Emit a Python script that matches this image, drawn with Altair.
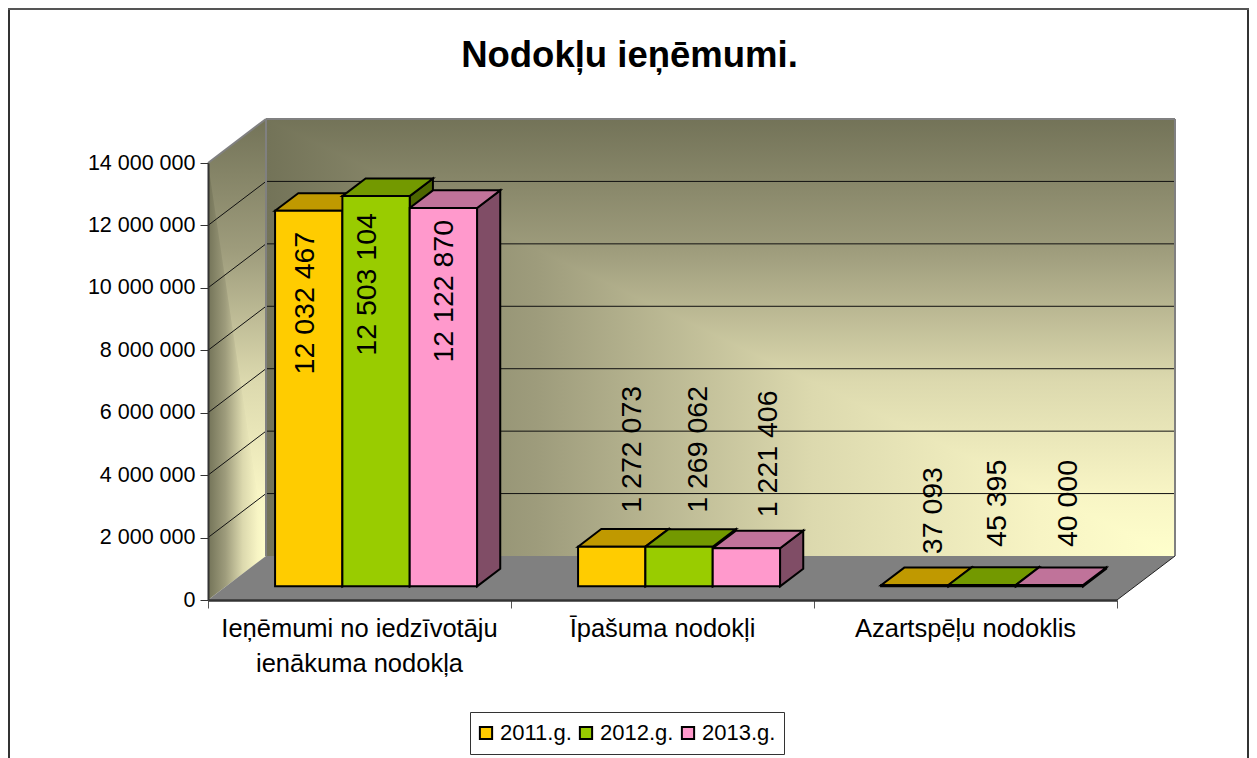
import altair as alt
import pandas as pd

# ---- data ----
categories = [["Ieņēmumi no iedzīvotāju", "ienākuma nodokļa"], ["Īpašuma nodokļi"], ["Azartspēļu nodoklis"]]
series = ["2011.g.", "2012.g.", "2013.g."]
v2011 = [12032467, 1272073, 37093]
v2012 = [12503104, 1269062, 45395]
v2013 = [12122870, 1221406, 40000]
values = [v2011, v2012, v2013]
ticks = [2000000, 4000000, 6000000, 8000000, 10000000, 12000000, 14000000]

front = ["#FFCC00", "#99CC00", "#FF99CC"]
topc = ["#C09900", "#739900", "#C0739A"]
side = ["#806600", "#4D6600", "#804D66"]

FONT = "Liberation Sans"
# ---- projection (oblique 3-D) in data units ----
X_MAX = 3.0
Y_MAX = 14000000.0
PLOT_W, PLOT_H = 909, 437
DU = 58 / 303          # wall depth in x units
DV = 44 / 437 * Y_MAX  # wall depth in y units
BAR_START, BAR_W = 0.162, 0.2222
D_FRONT, D_BACK = 0.31, 0.71

xs = alt.Scale(domain=[0, X_MAX], nice=False, zero=False)
ys = alt.Scale(domain=[0, Y_MAX], nice=False, zero=False)

xaxis = alt.Axis(values=[0, 1, 2, 3], labels=False, title=None, grid=False, tickSize=8,
                 tickColor="#555555", tickWidth=1, domainColor="#333333", domainWidth=2.5, zindex=1)
yaxis = alt.Axis(values=[0] + ticks, title=None, grid=False, tickSize=8, tickColor="#333333", tickWidth=1,
                 domainColor="#333333", domainWidth=2, zindex=1, labelFont=FONT, labelFontSize=21.5,
                 labelColor="black", labelPadding=5,
                 labelExpr="replace(format(datum.value, ','), regexp(',', 'g'), ' ')")


def X(f="x"):
    return alt.X(f"{f}:Q", scale=xs, axis=xaxis)


def Y(f="y"):
    return alt.Y(f"{f}:Q", scale=ys, axis=yaxis, stack=None)


def grad(stops, x2=0, y2=1):
    return alt.Gradient(
        gradient="linear", x1=0, y1=0, x2=x2, y2=y2,
        stops=[alt.GradientStop(offset=o, color=c) for o, c in stops],
    )


STOPS = [(0, "#737358"), (0.3, "#9E9C7C"), (0.6, "#DCD9AE"), (0.85, "#F7F4C4"), (1, "#FFFFCC")]

layers = []


def vtri(rows, fill):
    d = pd.DataFrame(rows, columns=["x", "y", "y2"])
    return alt.Chart(d).mark_area(fill=fill, orient="vertical").encode(x=X(), y=Y(), y2="y2:Q")


# base under the walls, so that the diagonal seam does not show white
layers.append(vtri([(DU, Y_MAX + DV, DV), (X_MAX + DU, Y_MAX + DV, DV)], grad(STOPS)))
layers.append(vtri([(0, Y_MAX, 0), (DU, Y_MAX + DV, DV)], grad(STOPS)))
# back wall: two triangles of a "from corner" gradient
layers.append(vtri([(DU, Y_MAX + DV, Y_MAX + DV), (X_MAX + DU, Y_MAX + DV, DV)], grad(STOPS)))
layers.append(vtri([(DU, Y_MAX + DV, DV), (X_MAX + DU, DV, DV)], grad(STOPS, x2=1, y2=0)))
# side wall
layers.append(vtri([(0, Y_MAX, Y_MAX), (DU, Y_MAX + DV, DV)], grad(STOPS)))
layers.append(vtri([(0, Y_MAX, 0), (DU, DV, DV)], grad(STOPS, x2=1, y2=0)))

# gridlines
g = pd.DataFrame({"v": ticks[:-1]})
g["y"] = g.v + DV
g["x"] = DU
g["x2"] = X_MAX + DU
g["x0"] = 0.0
layers.append(alt.Chart(g).mark_rule(color="#111111", strokeWidth=1).encode(x=X(), x2="x2:Q", y=Y()))
layers.append(alt.Chart(g).mark_rule(color="#111111", strokeWidth=1).encode(
    x=X("x0"), x2="x:Q", y=Y("v"), y2="y:Q"))

# wall outlines
o = pd.DataFrame({
    "x": [0, DU, X_MAX + DU],
    "x2": [DU, X_MAX + DU, X_MAX + DU],
    "y": [Y_MAX, Y_MAX + DV, Y_MAX + DV],
    "y2": [Y_MAX + DV, Y_MAX + DV, DV],
})
layers.append(alt.Chart(o).mark_rule(color="#808080", strokeWidth=2).encode(x=X(), x2="x2:Q", y=Y(), y2="y2:Q"))
o2 = pd.DataFrame({"x": [DU], "y": [Y_MAX + DV], "y2": [DV]})
layers.append(alt.Chart(o2).mark_rule(color="#808080", strokeWidth=2).encode(x=X(), y=Y(), y2="y2:Q"))

# floor
floor = pd.DataFrame({"y": [0, DV], "x": [0, DU], "x2": [X_MAX, X_MAX + DU]})
layers.append(alt.Chart(floor).mark_area(fill="#808080", orient="horizontal").encode(y=Y(), x=X(), x2="x2:Q"))
fe = pd.DataFrame({"x": [X_MAX], "x2": [X_MAX + DU], "y": [0.0], "y2": [DV]})
layers.append(alt.Chart(fe).mark_rule(color="#222222", strokeWidth=1).encode(x=X(), x2="x2:Q", y=Y(), y2="y2:Q"))


def bar_geom(i, j):
    left = j + BAR_START + i * BAR_W
    return left, left + BAR_W, values[i][j]


# side faces
for i in range(3):
    rows = []
    for j in range(3):
        l, r, v = bar_geom(i, j)
        rows.append((j, r + D_FRONT * DU, D_FRONT * DV, v + D_FRONT * DV))
        rows.append((j, r + D_BACK * DU, D_BACK * DV, v + D_BACK * DV))
    d = pd.DataFrame(rows, columns=["c", "x", "y", "y2"])
    layers.append(alt.Chart(d).mark_area(fill=side[i], stroke="black", strokeWidth=2, orient="vertical").encode(
        x=X(), y=Y(), y2="y2:Q", detail="c:N"))

# top faces
for i in range(3):
    rows = []
    for j in range(3):
        l, r, v = bar_geom(i, j)
        rows.append((j, v + D_FRONT * DV, l + D_FRONT * DU, r + D_FRONT * DU))
        rows.append((j, v + D_BACK * DV, l + D_BACK * DU, r + D_BACK * DU))
    d = pd.DataFrame(rows, columns=["c", "y", "x", "x2"])
    layers.append(alt.Chart(d).mark_area(fill=topc[i], stroke="black", strokeWidth=2, orient="horizontal").encode(
        y=Y(), x=X(), x2="x2:Q", detail="c:N"))

# front faces, with the legend
rows = []
for i in range(3):
    for j in range(3):
        l, r, v = bar_geom(i, j)
        rows.append((series[i], l + D_FRONT * DU, r + D_FRONT * DU, D_FRONT * DV, v + D_FRONT * DV))
ff = pd.DataFrame(rows, columns=["s", "x", "x2", "y", "y2"])
legend = alt.Legend(
    title=None, orient="none", legendX=262, legendY=549, columns=3, direction="horizontal",
    strokeColor="#333333", fillColor="white", padding=8, labelFont=FONT, labelFontSize=22, labelColor="black",
    symbolType="square", symbolSize=150, symbolStrokeColor="black", symbolStrokeWidth=2, symbolOpacity=1,
    symbolOffset=-3, columnPadding=6, labelOffset=3, labelLimit=200, rowPadding=0, clipHeight=26,
)
layers.append(alt.Chart(ff).mark_rect(stroke="black", strokeWidth=2).encode(
    x=X(), x2="x2:Q", y=Y(), y2="y2:Q",
    color=alt.Color("s:N", scale=alt.Scale(domain=series, range=front), legend=legend),
))

# value labels: (screen-up nudge from the bar's top edge, screen-right nudge from the bar's centre)
NUDGE = [
    [(-21, -4), (34, 20), (31, 18)],
    [(-17, -9), (34, 19), (38, 15)],
    [(-12, 1), (31, 22), (38, 19)],
]
for i in range(3):
    for j in range(3):
        l, r, v = bar_geom(i, j)
        up, right = NUDGE[i][j]
        d = pd.DataFrame({"x": [(l + r) / 2 + D_FRONT * DU], "y": [v + D_FRONT * DV],
                          "t": [f"{v:,}".replace(",", " ")]})
        layers.append(alt.Chart(d).mark_text(
            angle=270, align="left" if up > 0 else "right", baseline="middle", dx=up, dy=right,
            font=FONT, fontSize=28.5, color="black").encode(x=X(), y=Y(), text="t:N"))

# category labels
rows = []
for j, lines in enumerate(categories):
    rows.append({"x": j + 0.5, "t": lines})
cat = alt.Chart(alt.Data(values=rows)).mark_text(
    align="center", baseline="top", font=FONT, fontSize=25.5, color="black", lineHeight=35, dy=17
).encode(x=alt.X("x:Q", scale=xs, axis=xaxis), y=alt.value(PLOT_H), text="t:N")
layers.append(cat)

# outer frame
one = pd.DataFrame({"a": [0]})
layers.append(alt.Chart(one).mark_rule(color="#333333", strokeWidth=2).encode(
    x=alt.value(-199), y=alt.value(-155), y2=alt.value(595)))
layers.append(alt.Chart(one).mark_rule(color="#333333", strokeWidth=2).encode(
    x=alt.value(1040), y=alt.value(-155), y2=alt.value(595)))
layers.append(alt.Chart(one).mark_rule(color="#555555", strokeWidth=2).encode(
    x=alt.value(-200), x2=alt.value(1041), y=alt.value(-154)))

chart = alt.layer(*layers).properties(
    width=PLOT_W, height=PLOT_H,
    padding={"left": 200, "top": 155, "right": 132, "bottom": 158},
    autosize=alt.AutoSizeParams(type="none"),
    title=alt.TitleParams(
        "Nodokļu ieņēmumi.", font=FONT, fontSize=36.5, fontWeight="bold", color="black",
        anchor="middle", dx=-33, offset=-67,
    ),
).configure_view(stroke=None)

chart.save("out.html", embed_options={"renderer": "svg", "actions": False})
